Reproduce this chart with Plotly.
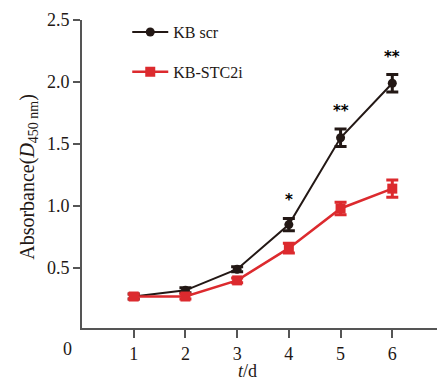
import plotly.graph_objects as go

days = [1, 2, 3, 4, 5, 6]
scr_mean = [0.27, 0.32, 0.49, 0.85, 1.55, 1.99]
scr_err = [0.02, 0.02, 0.02, 0.05, 0.07, 0.07]
stc_mean = [0.27, 0.27, 0.40, 0.66, 0.98, 1.14]
stc_err = [0.02, 0.02, 0.02, 0.04, 0.05, 0.07]
sig_labels = ["", "", "", "*", "**", "**"]
x_ticks = [1, 2, 3, 4, 5, 6, 7]
y_ticks = [0.5, 1.0, 1.5, 2.0, 2.5]

BLACK = "#231815"
RED = "#dc2a2e"
FONT = "Liberation Serif"

fig = go.Figure()
fig.add_trace(go.Scatter(
    x=days, y=scr_mean, name="KB scr", mode="lines+markers", legendgroup="a",
    line=dict(color=BLACK, width=2),
    marker=dict(symbol="circle", size=9, color=BLACK),
    error_y=dict(type="data", array=scr_err, color=BLACK, thickness=3, width=6),
))
fig.add_trace(go.Scatter(
    x=days, y=stc_mean, name="KB-STC2i", mode="lines+markers", legendgroup="b",
    line=dict(color=RED, width=2.5),
    marker=dict(symbol="square", size=10, color=RED),
    error_y=dict(type="data", array=stc_err, color=RED, thickness=3, width=6),
))

for d, m, e, s in zip(days, scr_mean, scr_err, sig_labels):
    if s:
        fig.add_annotation(x=d, y=m + e, text="<b>" + s + "</b>", showarrow=False, yanchor="bottom",
                           yshift=7, font=dict(family="DejaVu Sans", size=15, color="#000000"))

fig.add_annotation(xref="paper", yref="paper", x=-0.04, y=0, yanchor="top", xanchor="center",
                   yshift=-9, text="0", showarrow=False, font=dict(family=FONT, size=18, color=BLACK))
fig.add_annotation(xref="paper", yref="paper", x=0.458, y=0, yanchor="top", xanchor="center",
                   yshift=-31, text="<i>t</i>/d", showarrow=False, font=dict(family=FONT, size=18, color=BLACK))
fig.add_annotation(xref="paper", yref="paper", x=-0.15, y=0.49, xanchor="center", yanchor="middle",
                   textangle=-90, text="Absorbance(<i>D</i><sub>450 nm</sub>)", showarrow=False,
                   font=dict(family=FONT, size=20, color=BLACK))

fig.update_layout(
    width=437, height=373,
    margin=dict(l=74, r=1, t=12, b=53, autoexpand=False),
    paper_bgcolor="white", plot_bgcolor="white",
    font=dict(family=FONT, size=18, color=BLACK),
    showlegend=True,
    legend=dict(x=0.125, y=1.016, xanchor="left", yanchor="top", bgcolor="rgba(0,0,0,0)",
                itemwidth=36,
                font=dict(family=FONT, size=16, color=BLACK), tracegroupgap=16),
    xaxis=dict(range=[0, 7], tickvals=x_ticks, showline=True, linecolor="#555", linewidth=2,
               ticks="outside", ticklen=8, tickwidth=1.5, tickcolor="#555", showgrid=False,
               zeroline=False, automargin=False, ticklabeloverflow="allow",
               tickfont=dict(family=FONT, size=18, color=BLACK)),
    yaxis=dict(range=[0.016, 2.5], tickvals=y_ticks, ticktext=["0.5", "1.0", "1.5", "2.0", "2.5"],
               showline=True, linecolor="#555", linewidth=2,
               ticks="outside", ticklen=7, tickwidth=1.5, tickcolor="#555", showgrid=False,
               zeroline=False, automargin=False,
               tickfont=dict(family=FONT, size=18, color=BLACK)),
)

fig.write_html("out.html")
